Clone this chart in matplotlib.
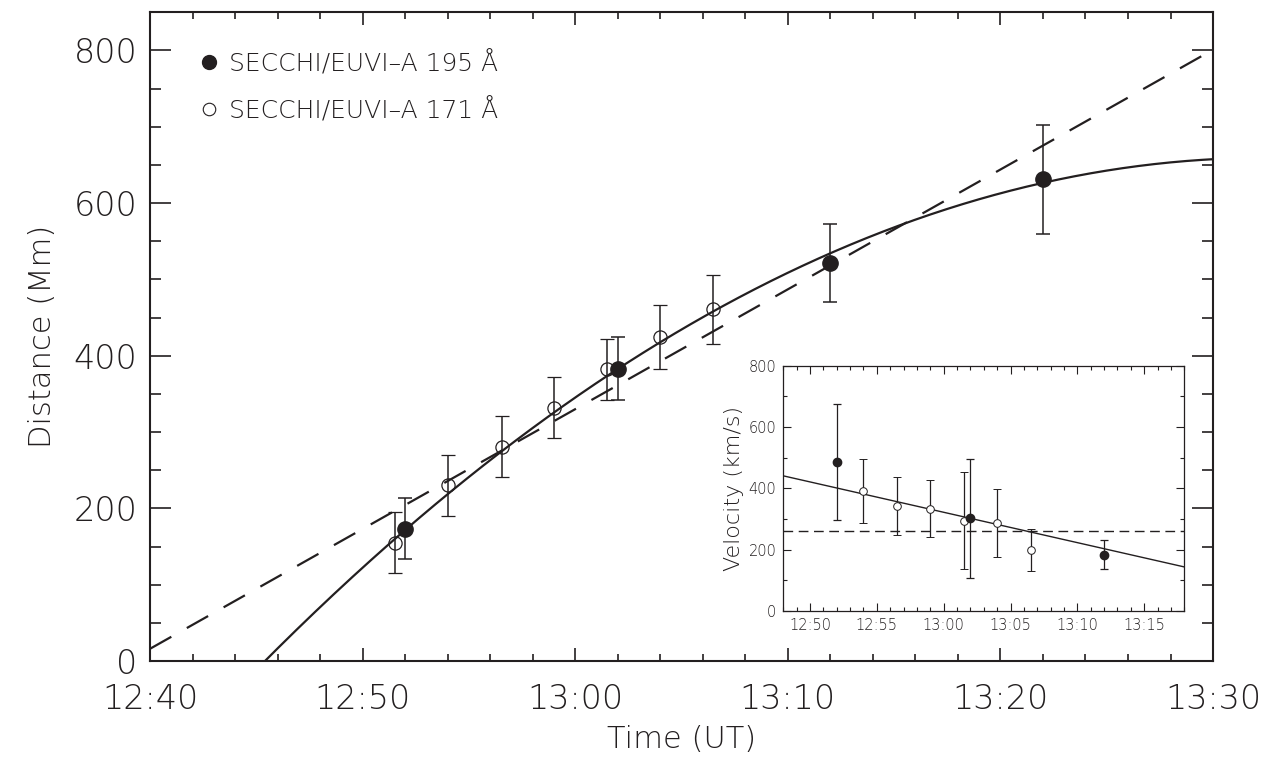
import numpy as np
import matplotlib as mpl
mpl.use('Agg')
import matplotlib.pyplot as plt
from matplotlib.ticker import MultipleLocator, FuncFormatter
from matplotlib.lines import Line2D

# times are minutes after 12:40 UT
t_195 = [12.0, 22.0, 32.0, 42.0]
d_195 = [173, 383, 521, 631]
e_195 = [40, 41, 51, 71]

t_171 = [11.5, 14.0, 16.55, 19.0, 21.5, 24.0, 26.5]
d_171 = [155, 230, 281, 332, 382, 424, 461]
e_171 = [40, 40, 40, 40, 40, 42, 45]

# velocities (inset)
tv_195 = [12.0, 22.0, 32.0]
v_195 = [485, 302, 184]
ev_195 = [189, 194, 46]

tv_171 = [14.0, 16.5, 19.0, 21.5, 24.0, 26.5]
v_171 = [392, 343, 334, 295, 286, 200]
ev_171 = [105, 95, 94, 158, 111, 68]

# fit coefficients (Mm, minutes)
quad_fit = [-160.0, 31.2, -0.297]   # c0, c1, c2
lin_fit = [16.0, 15.7]              # c0, c1
MM_PER_MIN_TO_KMS = 1000.0 / 60.0

labels = ['SECCHI/EUVI\u2013A 195 \u00c5', 'SECCHI/EUVI\u2013A 171 \u00c5']

col = '#231f20'
plt.rcParams['font.family'] = 'DejaVu Sans'
plt.rcParams['font.weight'] = 'light'
plt.rcParams['axes.labelweight'] = 'light'
plt.rcParams['text.color'] = col
plt.rcParams['axes.labelcolor'] = col
plt.rcParams['axes.edgecolor'] = col
plt.rcParams['xtick.color'] = col
plt.rcParams['ytick.color'] = col


def hhmm(x, pos=None):
    m = int(round(x)) + 40
    return '{:d}:{:02d}'.format(12 + m // 60, m % 60)


fig = plt.figure(figsize=(12.64, 7.63), dpi=100)
ax = fig.add_axes([0.1187, 0.1337, 0.8410, 0.8502])

t = np.linspace(0, 50, 400)
ax.plot(t, quad_fit[0] + quad_fit[1] * t + quad_fit[2] * t ** 2, color=col, lw=1.6, zorder=3)
ax.plot(t, lin_fit[0] + lin_fit[1] * t, color=col, lw=1.6, dashes=(11, 8), zorder=3)

ax.errorbar(t_171, d_171, yerr=e_171, fmt='o', ms=9.5, mfc='none', mec=col, mew=0.9,
            ecolor=col, elinewidth=1.1, capsize=5, capthick=1.1, zorder=4)
ax.errorbar(t_195, d_195, yerr=e_195, fmt='o', ms=11, mfc=col, mec=col,
            ecolor=col, elinewidth=1.1, capsize=5, capthick=1.1, zorder=5)

ax.set_xlim(0, 50)
ax.set_ylim(0, 850)
ax.xaxis.set_major_locator(MultipleLocator(10))
ax.xaxis.set_minor_locator(MultipleLocator(2))
ax.xaxis.set_major_formatter(FuncFormatter(hhmm))
ax.yaxis.set_major_locator(MultipleLocator(200))
ax.yaxis.set_minor_locator(MultipleLocator(50))
ax.tick_params(axis='both', which='both', direction='in', top=True, right=True, width=1.2)
ax.tick_params(axis='x', which='major', length=9.5, pad=16, labelsize=24)
ax.tick_params(axis='x', which='minor', length=5)
ax.tick_params(axis='y', which='major', length=15, pad=9, labelsize=24)
ax.tick_params(axis='y', which='minor', length=8)
for s in ax.spines.values():
    s.set_linewidth(1.5)
ax.set_xlabel('Time (UT)', fontsize=22, labelpad=6)
ax.set_ylabel('Distance (Mm)', fontsize=22, labelpad=12)

handles = [Line2D([], [], ls='none', marker='o', ms=10, mfc=col, mec=col),
           Line2D([], [], ls='none', marker='o', ms=9, mfc='none', mec=col, mew=0.8)]
ax.legend(handles, labels, loc='upper left', bbox_to_anchor=(0.037, 0.957), frameon=False,
          fontsize=18, handlelength=0.8, handletextpad=0.4, labelspacing=0.85, borderaxespad=0)

# inset: velocity
axi = fig.add_axes([0.6197, 0.1992, 0.3172, 0.3215])
vq = (quad_fit[1] + 2 * quad_fit[2] * t) * MM_PER_MIN_TO_KMS
vl = np.full_like(t, lin_fit[1] * MM_PER_MIN_TO_KMS)
axi.plot(t, vq, color=col, lw=1.0)
axi.plot(t, vl, color=col, lw=1.0, dashes=(7, 4))
axi.errorbar(tv_171, v_171, yerr=ev_171, fmt='o', ms=5.5, mfc='white', mec=col, mew=0.7,
             ecolor=col, elinewidth=0.9, capsize=3, capthick=0.9, zorder=4)
axi.errorbar(tv_195, v_195, yerr=ev_195, fmt='o', ms=6, mfc=col, mec=col,
             ecolor=col, elinewidth=0.9, capsize=3, capthick=0.9, zorder=5)
axi.set_xlim(8, 38)
axi.set_ylim(0, 800)
axi.xaxis.set_major_locator(MultipleLocator(5))
axi.xaxis.set_minor_locator(MultipleLocator(1))
axi.xaxis.set_major_formatter(FuncFormatter(hhmm))
axi.yaxis.set_major_locator(MultipleLocator(200))
axi.yaxis.set_minor_locator(MultipleLocator(100))
axi.tick_params(axis='both', which='both', direction='in', top=True, right=True, width=0.8,
                labelsize=10.5)
axi.tick_params(axis='both', which='major', length=6, pad=5)
axi.tick_params(axis='both', which='minor', length=3)
for s in axi.spines.values():
    s.set_linewidth(0.9)
axi.set_ylabel('Velocity (km/s)', fontsize=16, labelpad=3)

fig.savefig('out.png', dpi=100)
plt.close()
